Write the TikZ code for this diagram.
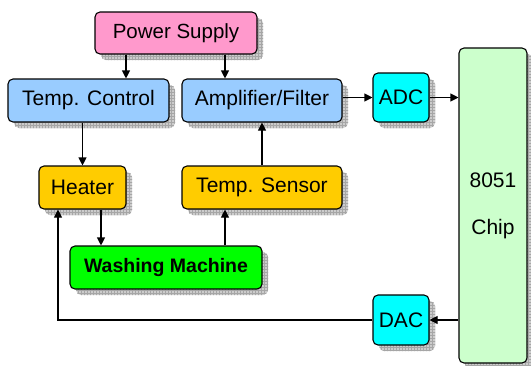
\documentclass[tikz,border=0pt]{standalone}
\usepackage{fontspec}
\setmainfont{Liberation Sans}
\usetikzlibrary{arrows.meta,shadows,patterns}
\definecolor{cyanbox}{RGB}{0,255,255}
\definecolor{pinkbox}{RGB}{255,153,204}
\definecolor{bluebox}{RGB}{153,204,255}
\definecolor{goldbox}{RGB}{255,204,0}
\definecolor{greenbox}{RGB}{0,255,0}
\definecolor{chipbox}{RGB}{204,255,204}
\tikzset{
  blk/.style={draw=black, line width=1.1pt, rounded corners=5pt, inner sep=0pt,
    font=\fontsize{21}{24}\selectfont,
    general shadow={shadow xshift=6pt, shadow yshift=-6pt, fill=gray!40},
    general shadow={shadow xshift=6pt, shadow yshift=-6pt, pattern=grid, pattern color=gray!70}},
  arr/.style={line width=1.1pt, -{Triangle[length=8pt,width=8pt]}},
  ln/.style={line width=1.1pt}
}
\begin{document}
\begin{tikzpicture}[x=1pt,y=-1pt]
\useasboundingbox (0,0) rectangle (531,365);
\node[blk, fill=pinkbox, minimum width=162pt, minimum height=42pt, font=\fontsize{20.5}{24}\selectfont] (ps) at (176,33) {Power Supply};
\node[blk, fill=bluebox, minimum width=161pt, minimum height=43pt] (tc) at (88.5,100.5) {Temp. Control};
\node[blk, fill=bluebox, minimum width=160pt, minimum height=43pt] (amp) at (262,100.5) {Amplifier/Filter};
\node[blk, fill=cyanbox, minimum width=56pt, minimum height=49pt] (adc) at (401,97.5) {ADC};
\node[blk, fill=chipbox, minimum width=68pt, minimum height=315pt, align=center] (chip) at (493,205.5) {8051\\[23pt]Chip};
\node[blk, fill=cyanbox, minimum width=56pt, minimum height=50pt] (dac) at (401,320) {DAC};
\node[blk, fill=goldbox, minimum width=87pt, minimum height=43pt] (heater) at (82.5,187.5) {Heater};
\node[blk, fill=goldbox, minimum width=160pt, minimum height=43pt] (sensor) at (262,187.5) {Temp. Sensor};
\node[blk, fill=greenbox, minimum width=192pt, minimum height=43pt, font=\fontsize{19.5}{22}\selectfont\bfseries] (wm) at (166,267.5) {Washing Machine};

\coordinate (p1) at ([xshift=-50pt]ps.south);
\coordinate (p2) at ([xshift=49pt]ps.south);
\draw[arr] (p1) -- (p1 |- tc.north);
\draw[arr] (p2) -- (p2 |- amp.north);
\draw[arr] (heater.north |- tc.south) -- (heater.north);
\draw[arr] (sensor.north) -- (amp.south);
\coordinate (h1) at ([xshift=18.5pt]heater.south);
\draw[arr] (h1) -- (h1 |- wm.north);
\coordinate (s1) at ([xshift=-37pt]sensor.south);
\draw[arr] (s1 |- wm.north) -- (s1);
\draw[arr] (adc.west -| amp.east) -- (adc.west);
\draw[arr] (adc.east) -- (adc.east -| chip.west);
\draw[arr] (dac.east -| chip.west) -- (dac.east);
\coordinate (h2) at ([xshift=-24.5pt]heater.south);
\draw[arr] (dac.west) -| (h2);
\end{tikzpicture}
\end{document}
